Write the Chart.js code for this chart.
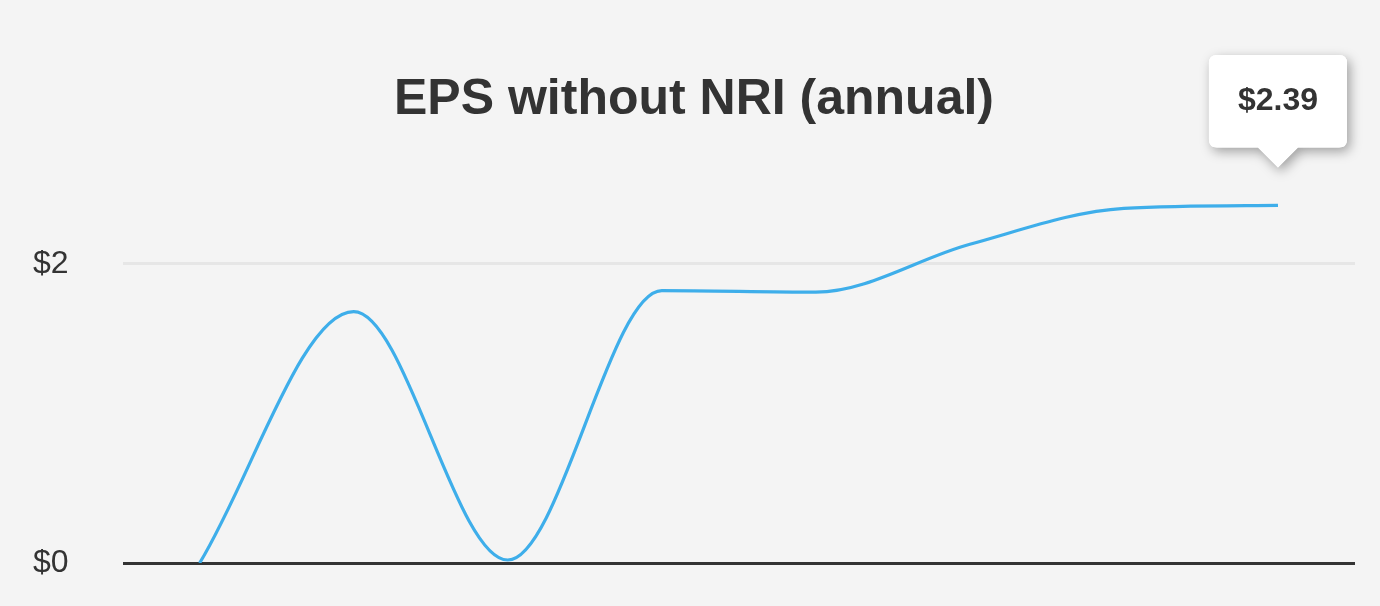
<!DOCTYPE html>
<html>
<head>
<meta charset="utf-8">
<script src="https://cdn.jsdelivr.net/npm/chart.js@4"></script>
<style>
  html, body { margin: 0; padding: 0; background: #f4f4f4; }
  #wrap { width: 1380px; height: 606px; position: relative; }
</style>
</head>
<body>
<div id="wrap"><canvas id="chart-eps"></canvas></div>
<script>
  // ============ 数据 ============
  const years = ['2016', '2017', '2018', '2019', '2020', '2021', '2022', '2023'];
  const epsValues = [0.00, 1.68, 0.02, 1.82, 1.81, 2.13, 2.37, 2.39];
  const yTicks = [0, 2];
  const lastLabel = '$2.39';

  const FONT = '"Liberation Sans", Arial, Helvetica, sans-serif';

  /** 提示框阴影：先画一个带阴影的白色底 */
  const tooltipShadow = {
    id: 'tooltipShadow',
    beforeTooltipDraw: function (chart, args) {
      const t = args.tooltip;
      if (!t || !t.opacity) return;
      const ctx = chart.ctx;
      const r = 8;
      const x = t.x, y = t.y, w = t.width, h = t.height;
      ctx.save();
      ctx.shadowColor = 'rgba(0,0,0,0.35)';
      ctx.shadowBlur = 12;
      ctx.shadowOffsetX = 3;
      ctx.shadowOffsetY = 4;
      ctx.fillStyle = '#ffffff';
      ctx.beginPath();
      ctx.moveTo(x + r, y);
      ctx.lineTo(x + w - r, y);
      ctx.quadraticCurveTo(x + w, y, x + w, y + r);
      ctx.lineTo(x + w, y + h - r);
      ctx.quadraticCurveTo(x + w, y + h, x + w - r, y + h);
      ctx.lineTo(t.caretX + 20, y + h);
      ctx.lineTo(t.caretX, y + h + 20);
      ctx.lineTo(t.caretX - 20, y + h);
      ctx.lineTo(x + r, y + h);
      ctx.quadraticCurveTo(x, y + h, x, y + h - r);
      ctx.lineTo(x, y + r);
      ctx.quadraticCurveTo(x, y, x + r, y);
      ctx.closePath();
      ctx.fill();
      ctx.restore();
    }
  };

  const chart = new Chart(document.querySelector('#chart-eps').getContext('2d'), {
    type: 'line',
    data: {
      labels: years,
      datasets: [{
        data: epsValues,
        borderColor: '#3eaeea',
        borderWidth: 3.2,
        pointRadius: 0,
        pointHoverRadius: 0,
        fill: false,
        cubicInterpolationMode: 'monotone',
      }],
    },
    options: {
      responsive: true,
      maintainAspectRatio: false,
      animation: false,
      events: [],
      layout: { padding: { left: 33, right: 25, top: 0, bottom: 37 } },
      scales: {
        x: {
          display: false,
          offset: true,
        },
        y: {
          min: 0,
          max: 2.7,
          afterBuildTicks: function (axis) {
            axis.ticks = yTicks.map(function (v) { return { value: v }; });
          },
          ticks: {
            padding: 27,
            crossAlign: 'far',
            color: '#333333',
            font: { family: FONT, size: 32, lineHeight: 1 },
            callback: function (v) { return '$' + v; },
          },
          grid: {
            drawTicks: false,
            lineWidth: 3,
            color: function (c) { return c.tick && c.tick.value === 0 ? '#333333' : '#e6e6e6'; },
          },
          border: { display: false },
        },
      },
      plugins: {
        legend: { display: false },
        title: {
          display: true,
          text: 'EPS without NRI (annual)',
          color: '#333333',
          font: { family: FONT, size: 50, weight: 'bold' },
          padding: { top: 70, bottom: 29 },
        },
        tooltip: {
          enabled: true,
          yAlign: 'bottom',
          xAlign: 'center',
          backgroundColor: '#ffffff',
          bodyColor: '#333333',
          bodyFont: { family: FONT, size: 32, weight: 'bold' },
          padding: { top: 27, bottom: 27, left: 29, right: 29 },
          caretSize: 20,
          caretPadding: 38,
          cornerRadius: 8,
          displayColors: false,
          callbacks: {
            title: function () { return ''; },
            label: function () { return lastLabel; },
          },
        },
      },
    },
    plugins: [tooltipShadow],
  });

  // 显示最后一个点的提示框
  const lastIdx = epsValues.length - 1;
  const pt = chart.getDatasetMeta(0).data[lastIdx];
  chart.tooltip.setActiveElements([{ datasetIndex: 0, index: lastIdx }], { x: pt.x, y: pt.y });
  chart.update();
</script>
</body>
</html>
